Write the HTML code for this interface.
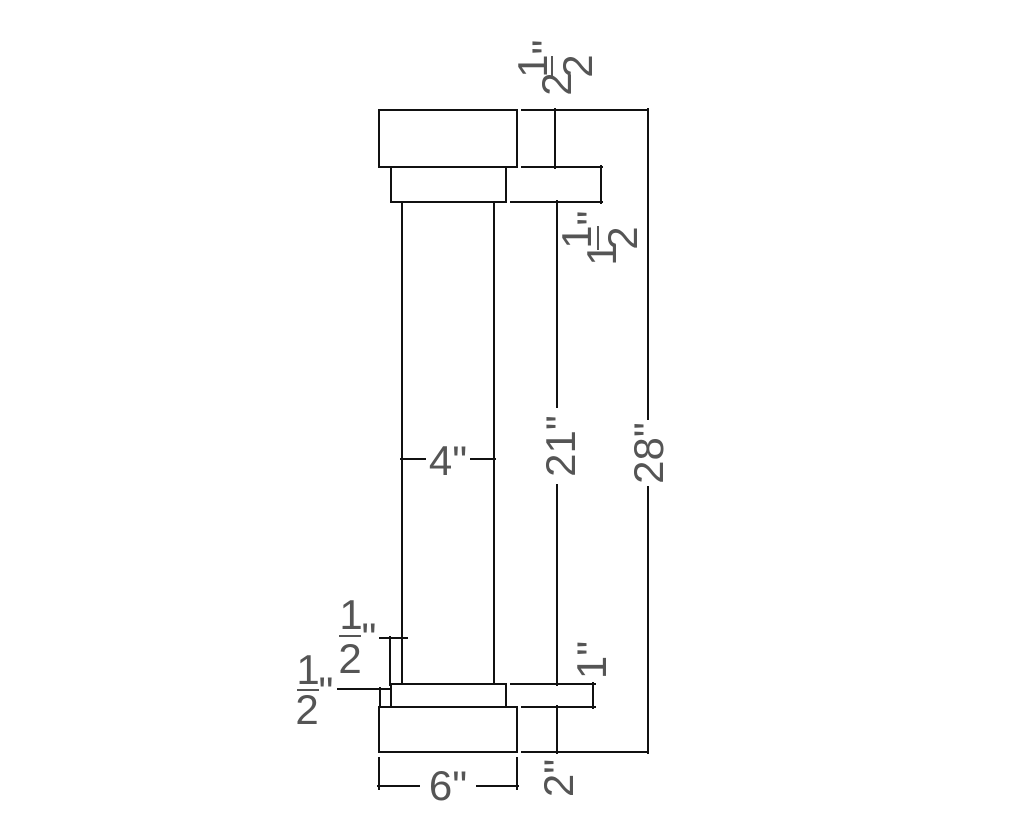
<!DOCTYPE html>
<html><head><style>html,body{margin:0;padding:0;background:#fff}</style></head><body>
<svg width="1024" height="834" viewBox="0 0 1024 834" xmlns="http://www.w3.org/2000/svg">
<g fill="none" stroke="#111" stroke-width="2">
<rect x="379" y="110" width="138" height="57"/>
<rect x="391" y="167" width="115" height="35"/>
<line x1="402" y1="202" x2="402" y2="684"/>
<line x1="494" y1="202" x2="494" y2="684"/>
<rect x="391" y="684" width="115" height="23"/>
<rect x="379" y="707" width="138" height="45"/>
<line x1="521" y1="110" x2="649" y2="110"/>
<line x1="521" y1="167" x2="603" y2="167"/>
<line x1="510" y1="202" x2="603" y2="202"/>
<line x1="510" y1="684" x2="596" y2="684"/>
<line x1="521" y1="707" x2="596" y2="707"/>
<line x1="521" y1="752" x2="649" y2="752"/>
<line x1="555" y1="108" x2="555" y2="169"/>
<line x1="601" y1="165" x2="601" y2="204"/>
<line x1="557" y1="200" x2="557" y2="408"/>
<line x1="557" y1="484" x2="557" y2="686"/>
<line x1="648" y1="108" x2="648" y2="420"/>
<line x1="648" y1="486" x2="648" y2="754"/>
<line x1="593" y1="682" x2="593" y2="709"/>
<line x1="557" y1="705" x2="557" y2="754"/>
<line x1="379" y1="757" x2="379" y2="790"/>
<line x1="517" y1="757" x2="517" y2="790"/>
<line x1="377" y1="786" x2="420" y2="786"/>
<line x1="476" y1="786" x2="519" y2="786"/>
<line x1="400" y1="459" x2="426" y2="459"/>
<line x1="470" y1="459" x2="496" y2="459"/>
<line x1="379" y1="638" x2="408" y2="638"/>
<line x1="390" y1="636" x2="390" y2="686"/>
<line x1="337" y1="689" x2="390" y2="689"/>
<line x1="380" y1="687" x2="380" y2="707"/>
<line x1="552" y1="56" x2="552" y2="78" stroke="#555"/>
<line x1="598" y1="226" x2="598" y2="250" stroke="#555"/>
<line x1="339" y1="636" x2="361" y2="636" stroke="#555"/>
<line x1="297" y1="690" x2="319" y2="690" stroke="#555"/>
</g>
<g fill="#555" font-family="Liberation Sans, sans-serif" font-size="42" text-anchor="middle">
<text x="556" y="84" dy="15" transform="rotate(-90 556 84)">2</text>
<text x="532" y="66" dy="15" transform="rotate(-90 532 66)">1</text>
<text x="577" y="66" dy="15" transform="rotate(-90 577 66)">2</text>
<text x="546" y="47" dy="15" transform="rotate(-90 546 47)">"</text>
<text x="601" y="254" dy="15" transform="rotate(-90 601 254)">1</text>
<text x="576" y="237" dy="15" transform="rotate(-90 576 237)">1</text>
<text x="622" y="238" dy="15" transform="rotate(-90 622 238)">2</text>
<text x="591" y="218" dy="15" transform="rotate(-90 591 218)">"</text>
<text x="560" y="446" dy="15" transform="rotate(-90 560 446)">21"</text>
<text x="648" y="453" dy="15" transform="rotate(-90 648 453)">28"</text>
<text x="591" y="660" dy="15" transform="rotate(-90 591 660)">1"</text>
<text x="558" y="778" dy="15" transform="rotate(-90 558 778)">2"</text>
<text x="448" y="475">4"</text>
<text x="448" y="800">6"</text>
<text x="351" y="629">1</text>
<text x="369" y="652">"</text>
<text x="350" y="673">2</text>
<text x="308" y="684">1</text>
<text x="326" y="706">"</text>
<text x="307" y="724">2</text>
</g>
</svg>
</body></html>
